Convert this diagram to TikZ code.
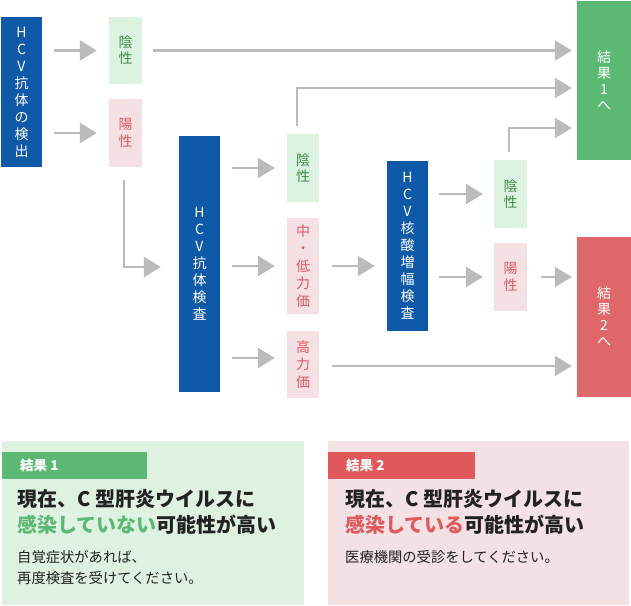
\documentclass[tikz,border=0pt]{standalone}
\usepackage{fontspec}
\setmainfont{Noto Sans CJK JP}
\usetikzlibrary{arrows.meta}
\definecolor{blueB}{HTML}{0E59A8}
\definecolor{greenL}{HTML}{DDF3E1}
\definecolor{greenT}{HTML}{3F8D45}
\definecolor{pinkL}{HTML}{F5E1E3}
\definecolor{redT}{HTML}{E05A60}
\definecolor{resG}{HTML}{5BB974}
\definecolor{resR}{HTML}{DF6769}
\definecolor{grayA}{HTML}{BBBBBB}
\definecolor{bgG}{HTML}{DFF2E1}
\definecolor{bgR}{HTML}{F3E1E3}
\definecolor{tabG}{HTML}{5BB974}
\definecolor{tabR}{HTML}{E05A5D}
\definecolor{txtK}{HTML}{222222}
\tikzset{
  vbox/.style={inner sep=0pt, align=center, font=\fontsize{14}{17}\selectfont},
  testbox/.style={vbox, fill=blueB, text=white},
  negbox/.style={vbox, fill=greenL, text=greenT, minimum width=33pt, font=\fontsize{14}{16}\selectfont},
  posbox/.style={vbox, fill=pinkL, text=redT, minimum width=33pt, font=\fontsize{14}{17.5}\selectfont},
  resbox/.style={vbox, text=white, minimum width=54pt, font=\fontsize{14}{16}\selectfont},
  flow/.style={draw=grayA, line width=2.6pt, -{Triangle[length=17pt,width=20pt]}},
  tab/.style={anchor=north west, inner sep=0pt, text=white, font=\fontsize{13.5}{15}\selectfont\bfseries},
  head/.style={anchor=west, inner sep=0pt, text=txtK, font=\fontsize{20}{24}\selectfont\bfseries},
  body/.style={anchor=west, inner sep=0pt, text=txtK, font=\fontsize{14.3}{16}\selectfont},
}
\begin{document}
\begin{tikzpicture}[x=1pt,y=-1pt]
\useasboundingbox (0,0) rectangle (631,605);
% nodes
\node[testbox, minimum width=41pt, minimum height=150pt] (det) at (21.5,92) {H\\C\\V\\抗\\体\\の\\検\\出};
\node[negbox, minimum height=67pt] (neg1) at (125.5,50.5) {陰\\性};
\node[posbox, minimum height=68pt] (pos1) at (125.5,133) {陽\\性};
\node[testbox, minimum width=41pt, minimum height=256pt] (ab) at (199.5,264) {H\\C\\V\\抗\\体\\検\\査};
\node[negbox, minimum width=32pt, minimum height=68pt] (neg2) at (303,168) {陰\\性};
\node[posbox, minimum width=32pt, minimum height=96pt] (mid) at (303,266) {中\\・\\低\\力\\価};
\node[posbox, minimum width=32pt, minimum height=67pt] (high) at (303,364.5) {高\\力\\価};
\node[testbox, minimum width=41pt, minimum height=170pt] (nat) at (407.5,246) {H\\C\\V\\核\\酸\\増\\幅\\検\\査};
\node[negbox, minimum height=68pt] (neg3) at (510.5,194) {陰\\性};
\node[posbox, minimum height=68pt] (pos3) at (510.5,277) {陽\\性};
\node[resbox, fill=resG, minimum height=159pt] (r1) at (604,80.5) {結\\果\\1\\へ};
\node[resbox, fill=resR, minimum height=160pt] (r2) at (604,317) {結\\果\\2\\へ};
% connectors
\draw[flow, shorten <=12pt, shorten >=12pt] (det.east |- neg1.west) -- (neg1.west);
\draw[flow, shorten <=12pt, shorten >=12pt] (det.east |- pos1.west) -- (pos1.west);
\draw[flow, shorten <=11pt, shorten >=5pt] (neg1.east) -- (neg1.east -| r1.west);
\coordinate (c1) at (124,267);
\draw[flow, shorten <=13pt, shorten >=18pt] (pos1.south -| c1) -- (c1) -- (c1 -| ab.west);
\draw[flow, shorten <=12pt, shorten >=12pt] (ab.east |- neg2.west) -- (neg2.west);
\draw[flow, shorten <=12pt, shorten >=12pt] (ab.east |- mid.west) -- (mid.west);
\draw[flow, shorten <=12pt, shorten >=12pt] (ab.east |- 0,358) -- (high.west |- 0,358);
\coordinate (c2) at (297,88);
\draw[flow, shorten <=8pt, shorten >=5pt] (neg2.north -| c2) -- (c2) -- (c2 -| r1.west);
\draw[flow, shorten <=13pt, shorten >=12pt] (mid.east) -- (mid.east -| nat.west);
\draw[flow, shorten <=13pt, shorten >=5pt] (high.east |- 0,366) -- (r2.west |- 0,366);
\draw[flow, shorten <=11pt, shorten >=11pt] (nat.east |- neg3.west) -- (neg3.west);
\draw[flow, shorten <=11pt, shorten >=11pt] (nat.east |- pos3.west) -- (pos3.west);
\coordinate (c3) at (509,128);
\draw[flow, shorten <=8pt, shorten >=5pt] (neg3.north -| c3) -- (c3) -- (c3 -| r1.west);
\draw[flow, shorten <=14pt, shorten >=5pt] (pos3.east) -- (pos3.east -| r2.west);
% result panels
\node[fill=bgG, inner sep=0pt, minimum width=302pt, minimum height=164pt, anchor=north west] (p1) at (2,441) {};
\node[fill=tabG, inner sep=0pt, minimum width=145pt, minimum height=27pt, anchor=north west] (t1) at (2,452) {};
\node[tab, anchor=west] (t1l) at (20,465.5) {結果 1};
\node[head] (h1a) at (17,499) {現在、C 型肝炎ウイルスに};
\node[head] (h1b) at (17,525) {\textcolor{resG}{感染していない}可能性が高い};
\node[body] (b1a) at (17,557) {自覚症状があれば、};
\node[body] (b1b) at (17,578) {再度検査を受けてください。};
\node[fill=bgR, inner sep=0pt, minimum width=301pt, minimum height=164pt, anchor=north west] (p2) at (328,441) {};
\node[fill=tabR, inner sep=0pt, minimum width=147pt, minimum height=27pt, anchor=north west] (t2) at (328,452) {};
\node[tab, anchor=west] (t2l) at (346,465.5) {結果 2};
\node[head] (h2a) at (345,499) {現在、C 型肝炎ウイルスに};
\node[head] (h2b) at (345,525) {\textcolor{tabR}{感染している}可能性が高い};
\node[body] (b2a) at (345,557) {医療機関の受診をしてください。};
\end{tikzpicture}
\end{document}
